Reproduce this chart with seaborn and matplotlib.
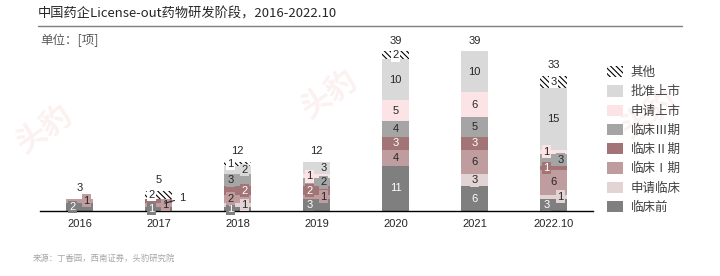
import matplotlib
matplotlib.use("Agg")
import matplotlib.pyplot as plt
import seaborn as sns
import numpy as np
from matplotlib.patches import Patch
from matplotlib.lines import Line2D

# ---------------- data ----------------
years = ["2016", "2017", "2018", "2019", "2020", "2021", "2022.10"]
stages = ["临床前", "申请临床", "临床Ⅰ期", "临床Ⅱ期", "临床Ⅲ期", "申请上市", "批准上市", "其他"]
preclinical = [2, 1, 1, 3, 11, 6, 3]
ind_filing = [0, 0, 1, 0, 0, 3, 1]
phase1 = [1, 1, 2, 1, 4, 6, 6]
phase2 = [0, 1, 2, 2, 3, 3, 1]
phase3 = [0, 0, 3, 2, 4, 5, 3]
nda_filing = [0, 0, 0, 1, 5, 6, 1]
approved = [0, 0, 2, 3, 10, 10, 15]
other = [0, 2, 1, 0, 2, 0, 3]

title = "中国药企License-out药物研发阶段，2016-2022.10"
unit_text = "单位：[项]"
source_text = "来源：丁香园，西南证券，头豹研究院"

# ---------------- style ----------------
colors = ["#7f7f7f", "#e2d3d4", "#bf9c9e", "#a37475", "#a5a5a5", "#fce4e6", "#d9d9d9", "white"]
text_colors = ["white", "#262626", "#262626", "white", "#262626", "#262626", "#262626", "#262626"]

sns.set_style("white")
plt.rcParams["font.family"] = ["Liberation Sans", "Noto Sans CJK SC"]
plt.rcParams["hatch.linewidth"] = 0.8
plt.rcParams["hatch.color"] = "black"

series = [preclinical, ind_filing, phase1, phase2, phase3, nda_filing, approved, other]
vals = np.array(series, dtype=float)
cum = np.cumsum(vals, axis=0)
totals = cum[-1]

fig = plt.figure(figsize=(7.2, 2.76), dpi=100)
ax = fig.add_axes([40 / 720, 65 / 276, 553 / 720, 172 / 276])

bar_w = 0.33
# draw cumulative bars from the top down so each lower stage overlays the previous
for i in range(len(stages) - 1, -1, -1):
    kw = dict(x=years, y=cum[i], order=years, width=bar_w, saturation=1,
              ax=ax, color=colors[i], linewidth=0)
    if stages[i] == "其他":
        kw.update(hatch="\\\\\\\\\\\\", edgecolor="black")
    else:
        kw.update(edgecolor=colors[i])
    sns.barplot(**kw)

ax.set_xlim(-0.5, len(years) - 0.5)
ax.set_ylim(0, 42)
ax.set_xlabel("")
ax.set_ylabel("")
ax.set_yticks([])
for s in ["top", "right", "left"]:
    ax.spines[s].set_visible(False)
ax.spines["bottom"].set_color("black")
ax.spines["bottom"].set_linewidth(1.0)
ax.tick_params(axis="x", length=0, pad=6, labelsize=8, labelcolor="#262626")

# segment labels
num_font = ["Liberation Sans", "DejaVu Sans"]
for j in range(len(years)):
    nz = [i for i in range(len(stages)) if vals[i, j] > 0]
    side = -1
    last_y = {-1: -99.0, 1: -99.0}
    for k, i in enumerate(nz):
        v = vals[i, j]
        neigh = []
        if k > 0:
            neigh.append(vals[nz[k - 1], j])
        if k < len(nz) - 1:
            neigh.append(vals[nz[k + 1], j])
        crowded = v <= 2 or (v <= 3 and any(n <= 2 for n in neigh))
        if stages[i] == "其他" and totals[j] > 20:
            crowded = False
        yc = cum[i, j] - v / 2
        if crowded and yc - last_y[side] < 2.5:
            # no room inside: label outside with a short leader line
            ax.annotate(f"{int(v)}", xy=(j + 0.08, yc - 0.6), xytext=(j + 0.3, yc + 0.6),
                        ha="center", va="center", fontsize=8, color="#262626", family=num_font,
                        arrowprops=dict(arrowstyle="-", lw=0.8, color="#262626",
                                        shrinkA=1, shrinkB=0))
            continue
        dx = 0.0
        if crowded:
            dx = 0.09 * side
            last_y[side] = yc
            side = -side
        ax.text(j + dx, yc, f"{int(v)}", ha="center", va="center", fontsize=8,
                color=text_colors[i], family=num_font,
                bbox=dict(boxstyle="square,pad=0.12", fc=colors[i], ec="none"))

# totals
for j in range(len(years)):
    ax.annotate(f"{int(totals[j])}", (j, totals[j]), xytext=(0, 4), textcoords="offset points",
                ha="center", va="bottom", fontsize=8, color="#262626", family=num_font)

# legend
handles = []
for i in range(len(stages) - 1, -1, -1):
    if stages[i] == "其他":
        handles.append(Patch(facecolor="white", edgecolor="black", hatch="\\\\\\\\\\\\", linewidth=0))
    else:
        handles.append(Patch(facecolor=colors[i], edgecolor="none"))
labels = stages[::-1]
leg = fig.legend(handles, labels, loc="upper left", bbox_to_anchor=(602 / 720, 1 - 61 / 276),
                 frameon=False, handlelength=1.3, handleheight=1.0,
                 labelspacing=0.5, handletextpad=0.6, borderaxespad=0,
                 prop={"family": ["Noto Sans CJK SC"], "size": 9})
for t in leg.get_texts():
    t.set_color("#404040")

# title, rule, unit, source
fig.text(38 / 720, 1 - 14 / 276, title, fontsize=9.5, va="center", ha="left",
         color="#262626", family=["Noto Sans CJK SC"])
fig.add_artist(Line2D([38 / 720, 682 / 720], [1 - 26 / 276] * 2, color="#7f7f7f", lw=1))
fig.text(40 / 720, 1 - 40 / 276, unit_text, fontsize=9, va="center", ha="left",
         color="#595959", family=["Noto Sans CJK SC"])
fig.text(33 / 720, 1 - 258 / 276, source_text, fontsize=6, va="center", ha="left",
         color="#a6a6a6", family=["Noto Sans CJK SC"])

# faint watermark
for (wx, wy) in [(45 / 720, 1 - 130 / 276), (330 / 720, 1 - 95 / 276), (650 / 720, 1 - 115 / 276)]:
    fig.text(wx, wy, "头豹", fontsize=22, color="#e03030", alpha=0.07, rotation=35,
             ha="center", va="center", family=["Noto Sans CJK SC"], fontweight="bold")

fig.savefig("out.png", dpi=100)
